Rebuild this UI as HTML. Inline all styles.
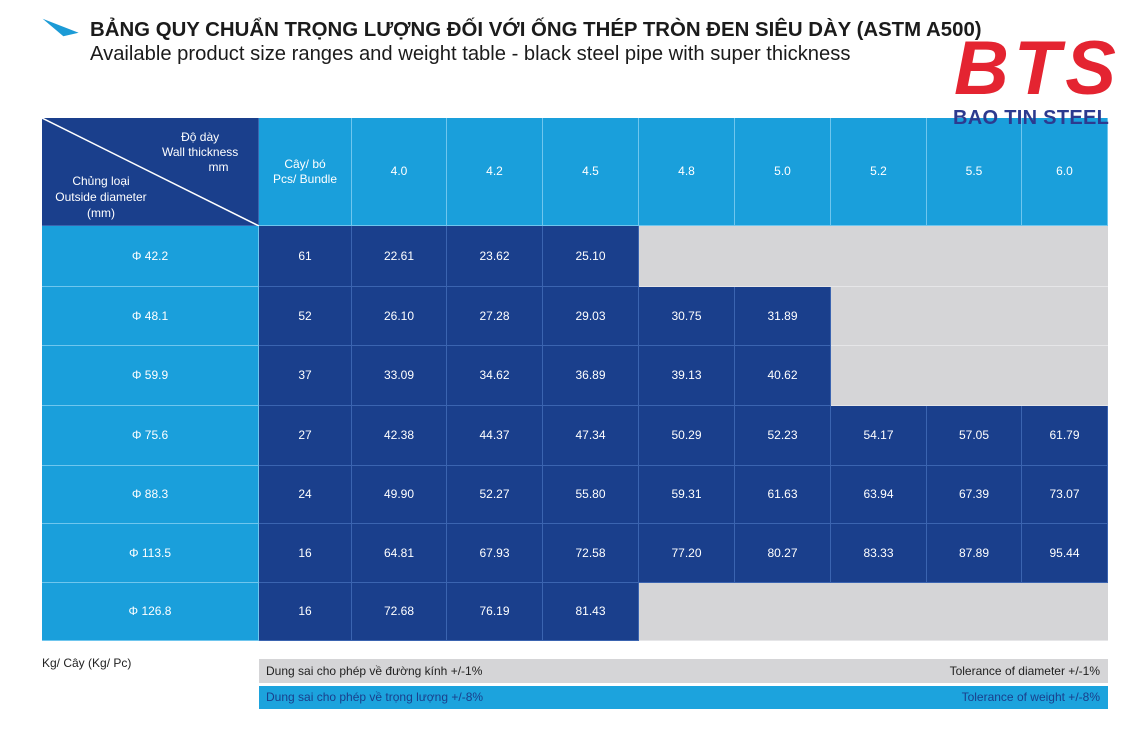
<!DOCTYPE html>
<html><head><meta charset="utf-8"><style>
body{margin:0;width:1144px;height:734px;background:#fff;position:relative;overflow:hidden;font-family:"Liberation Sans",sans-serif}
.c{position:absolute;display:flex;align-items:center;justify-content:center;color:#fff;font-size:12px;box-sizing:border-box;text-align:center;line-height:1.25}
.d{background:#1a3f8c;border-right:1px solid #3b64b0;border-bottom:1px solid #3b64b0}
.l{background:#1a9fdb;border-right:1px solid #6fc6ee;border-bottom:1px solid #6fc6ee}
.g{background:#d5d5d7;border-bottom:1px solid #e6e6e8}
.t{position:absolute;white-space:nowrap}
</style></head><body>
<div style="position:absolute;left:48px;top:25px;width:0;height:0;border-top:12px solid #1c9bd6;border-left:14px solid transparent;border-right:14px solid transparent;transform:skewX(40deg) rotate(30deg);"></div>
<div id="tbl"></div>
<div class="t" style="left:954px;top:29px;font-size:76px;font-weight:bold;font-style:italic;color:#e42431;letter-spacing:5px;line-height:80px;z-index:5">BTS</div>
<div class="t" style="left:953px;top:107px;font-size:20px;font-weight:bold;color:#2c3a8f;z-index:5;letter-spacing:0.3px">BAO TIN STEEL</div>
<div class="t" style="left:90px;top:19px;font-size:20.4px;font-weight:bold;color:#1b1b1b;z-index:6">BẢNG QUY CHUẨN TRỌNG LƯỢNG ĐỐI VỚI ỐNG THÉP TRÒN ĐEN SIÊU DÀY (ASTM A500)</div>
<div class="t" style="left:90px;top:43px;font-size:20.2px;color:#1b1b1b;">Available product size ranges and weight table - black steel pipe with super thickness</div>
<div class="t" style="left:42px;top:656px;font-size:12px;color:#222;">Kg/ Cây (Kg/ Pc)</div>
<div style="position:absolute;left:259px;top:659px;width:849px;height:24px;background:#d5d5d7"></div>
<div class="t" style="left:266px;top:664px;font-size:12px;color:#222;">Dung sai cho phép về đường kính +/-1%</div>
<div class="t" style="right:44px;top:664px;font-size:12px;color:#222;">Tolerance of diameter +/-1%</div>
<div style="position:absolute;left:259px;top:686px;width:849px;height:23px;background:#1ca3dd"></div>
<div class="t" style="left:266px;top:690px;font-size:12px;color:#1a3f8c;">Dung sai cho phép về trọng lượng +/-8%</div>
<div class="t" style="right:44px;top:690px;font-size:12px;color:#1a3f8c;">Tolerance of weight +/-8%</div>
<script>
var X=[42,259,352,447,543,639,735,831,927,1022,1108];
var Y=[118,226,287,346,406,466,524,583,641];
var H=['','Cây/ bó<br>Pcs/ Bundle','4.0','4.2','4.5','4.8','5.0','5.2','5.5','6.0'];
var R=[['Φ 42.2','61','22.61','23.62','25.10'],['Φ 48.1','52','26.10','27.28','29.03','30.75','31.89'],['Φ 59.9','37','33.09','34.62','36.89','39.13','40.62'],['Φ 75.6','27','42.38','44.37','47.34','50.29','52.23','54.17','57.05','61.79'],['Φ 88.3','24','49.90','52.27','55.80','59.31','61.63','63.94','67.39','73.07'],['Φ 113.5','16','64.81','67.93','72.58','77.20','80.27','83.33','87.89','95.44'],['Φ 126.8','16','72.68','76.19','81.43']];
var h='';
function cell(cls,x0,x1,y0,y1,txt){h+='<div class="c '+cls+'" style="left:'+x0+'px;top:'+y0+'px;width:'+(x1-x0)+'px;height:'+(y1-y0)+'px">'+txt+'</div>';}
cell('d',X[0],X[1],Y[0],Y[1],'');
h+='<svg style="position:absolute;left:42px;top:118px" width="217" height="108"><line x1="0" y1="0" x2="217" y2="108" stroke="#fff" stroke-width="1.5"/></svg>';
h+='<div class="t" style="left:162px;top:130px;color:#fff;font-size:12px;text-align:center;line-height:15px">Độ dày<br>Wall thickness<br>&nbsp;&nbsp;&nbsp;&nbsp;&nbsp;&nbsp;&nbsp;&nbsp;&nbsp;&nbsp;&nbsp;mm</div>';
h+='<div class="t" style="left:46px;top:173px;color:#fff;font-size:12px;text-align:center;line-height:16px;width:110px">Chủng loại<br>Outside diameter<br>(mm)</div>';
for(var i=1;i<10;i++)cell('l',X[i],X[i+1],Y[0],Y[1],H[i]);
for(var r=0;r<7;r++){cell('l',X[0],X[1],Y[r+1],Y[r+2],R[r][0]);
for(var i=1;i<10;i++){var v=R[r][i];cell(v?'d':'g',X[i],X[i+1],Y[r+1],Y[r+2],v||'');}}
document.getElementById('tbl').innerHTML=h;
</script>
</body></html>
